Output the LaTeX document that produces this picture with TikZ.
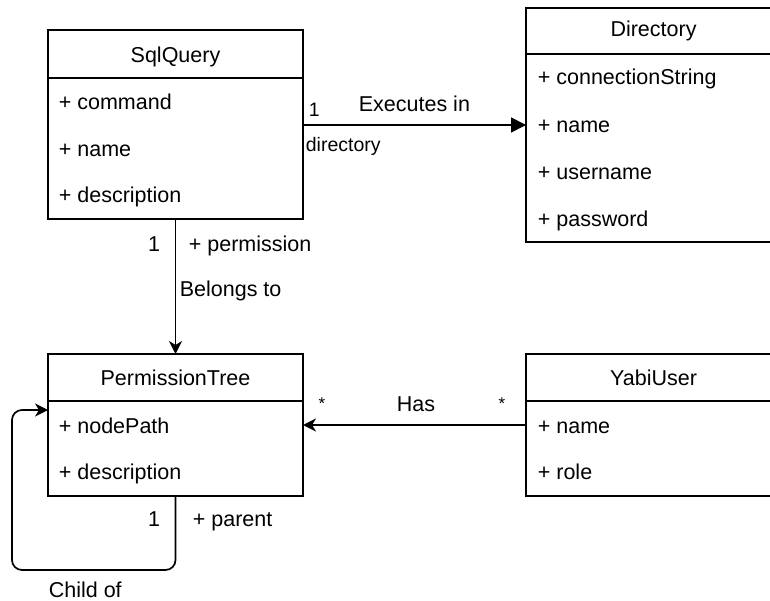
\documentclass[tikz,border=0pt]{standalone}
\usepackage{fontspec}
\setmainfont{Liberation Sans}
\usetikzlibrary{arrows.meta}
\newcommand{\tri}{-{Triangle[length=15pt,width=15pt]}}
\newcommand{\opn}{-{Stealth[length=13pt,width=13pt,inset=4pt]}}
\tikzset{
  hdr/.style={draw,minimum width=255pt,inner sep=0pt,outer sep=0pt},
  body/.style={draw,minimum width=255pt,anchor=north,inner sep=0pt,outer sep=0pt},
  attr/.style={anchor=base west,inner sep=0pt},
  lbl/.style={anchor=base west,inner sep=0pt},
  small/.style={inner sep=0pt,font=\fontsize{19.5}{23}\selectfont},
}

\begin{document}
\begin{tikzpicture}[x=1pt,y=-1pt,line width=1.7pt,font=\fontsize{21.5}{26}\selectfont]
\useasboundingbox (0,0) rectangle (770,601);
\clip (0,0) rectangle (770,601);
%SqlQuery
\node[hdr,minimum height=48pt] (sql) at (175.5,54) {};
\node[inner sep=0pt,anchor=base] (sqlt) at (175.5,63) {SqlQuery};
\node[body,minimum height=141pt] (sqlb) at (sql.south) {};
\node[attr] (scmd) at (58,110) {+ command};
\node[attr] (sname) at (58,157) {+ name};
\node[attr] (sdesc) at (58,203) {+ description};
%Directory
\node[hdr,minimum height=46pt] (dir) at (653.5,31) {};
\node[inner sep=0pt,anchor=base] (dirt) at (653.5,37) {Directory};
\node[body,minimum height=188pt] (dirb) at (dir.south) {};
\node[attr] (dconn) at (537,85) {+ connectionString};
\node[attr] (dname) at (537,133) {+ name};
\node[attr] (duser) at (537,180) {+ username};
\node[attr] (dpass) at (537,227) {+ password};
%PermissionTree
\node[hdr,minimum height=47pt] (perm) at (175.5,377.5) {};
\node[inner sep=0pt,anchor=base] (permt) at (175.5,385) {PermissionTree};
\node[body,minimum height=95pt] (permb) at (perm.south) {};
\node[attr] (ppath) at (58,433) {+ nodePath};
\node[attr] (pdesc) at (58,479) {+ description};
%YabiUser
\node[hdr,minimum height=47pt] (user) at (653.5,377.5) {};
\node[inner sep=0pt,anchor=base] (usert) at (653.5,385) {YabiUser};
\node[body,minimum height=95pt] (userb) at (user.south) {};
\node[attr] (uname) at (537,433) {+ name};
\node[attr] (urole) at (537,479) {+ role};
%associations
\draw[\tri] (sqlb.east |- 0,125) -- (dirb.west |- 0,125);
\node[lbl] (exec) at (358,112) {Executes in};
\node[small,anchor=base west] (m1) at (308,117) {1};
\node[small,anchor=base west] (mdir) at (305,152) {directory};
\draw[\opn] (sqlb.south) -- (perm.north);
\node[inner sep=0pt,anchor=base east] (m2) at (161,252) {1};
\node[lbl] (mperm) at (188,252) {+ permission};
\node[lbl] (belong) at (179,297) {Belongs to};
\draw[\opn] (userb.west |- 0,425) -- (permb.east |- 0,425);
\node[inner sep=0pt,anchor=base] (has) at (416,411) {Has};
\node[inner sep=0pt,anchor=base,font=\fontsize{17}{20}\selectfont] (s1) at (322,409) {*};
\node[inner sep=0pt,anchor=base,font=\fontsize{17}{20}\selectfont] (s2) at (502,409) {*};
%self loop
\coordinate (back) at (12,410);
\draw[\opn,rounded corners=10pt] (permb.south) -- ++(0,74) -| (back) -- (back -| permb.west);
\node[inner sep=0pt,anchor=base east] (m3) at (161,526) {1};
\node[lbl] (mpar) at (192,526) {+ parent};
\node[lbl] (child) at (48,597) {Child of};
\end{tikzpicture}
\end{document}
